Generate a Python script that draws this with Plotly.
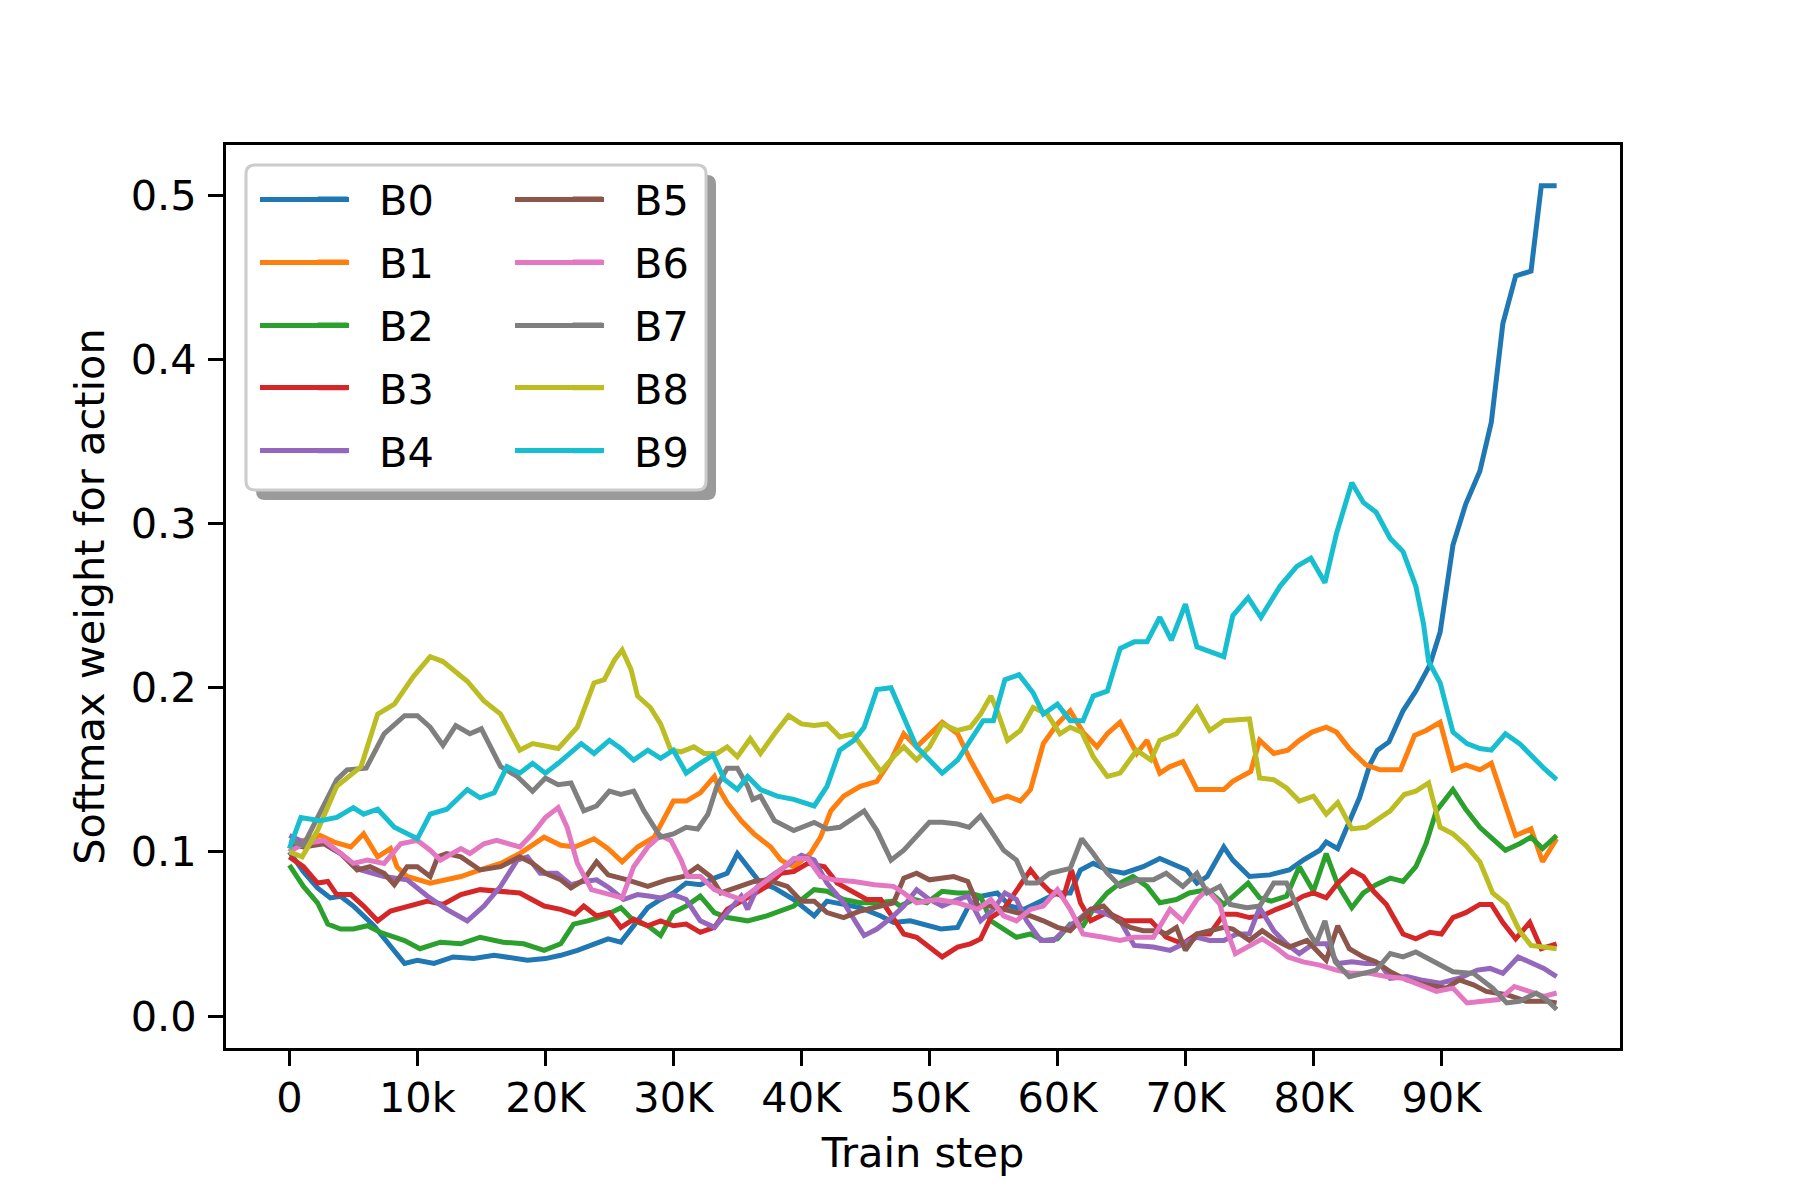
import plotly.graph_objects as go

# ---- data (steps in thousands, softmax weights) ----
B0_k = [0, 1.1, 2.2, 3.2, 4.0, 5.0, 6.6, 7.9, 9.0, 10.0, 11.3, 12.8, 14.4, 16.0, 17.0, 18.6, 20.0, 21.2, 22.5, 23.8, 24.9, 25.9, 26.9, 28.0, 29.0, 30.0, 31.0, 32.1, 33.2, 34.2, 35.0, 35.8, 36.8, 37.9, 39.4, 41.0, 42.0, 43.3, 44.6, 46.2, 47.2, 48.5, 49.6, 50.9, 52.2, 53.0, 54.0, 55.3, 56.3, 57.4, 58.7, 60.0, 61.0, 61.8, 62.8, 63.9, 65.2, 66.7, 68.0, 69.0, 70.1, 70.9, 71.7, 73.0, 73.7, 75.0, 76.6, 78.1, 79.2, 80.5, 81.0, 81.9, 82.6, 83.6, 84.4, 85.0, 85.9, 87.0, 88.0, 89.1, 89.9, 90.9, 91.9, 93.0, 93.9, 94.8, 95.8, 97.0, 97.8, 99.0]
B0_v = [0.100, 0.088, 0.078, 0.072, 0.073, 0.067, 0.055, 0.042, 0.032, 0.034, 0.032, 0.036, 0.035, 0.037, 0.036, 0.034, 0.035, 0.037, 0.040, 0.044, 0.047, 0.045, 0.055, 0.066, 0.071, 0.075, 0.081, 0.080, 0.084, 0.087, 0.099, 0.091, 0.081, 0.078, 0.071, 0.061, 0.070, 0.068, 0.066, 0.061, 0.057, 0.058, 0.056, 0.053, 0.054, 0.066, 0.073, 0.075, 0.067, 0.065, 0.070, 0.075, 0.075, 0.089, 0.093, 0.089, 0.087, 0.091, 0.096, 0.093, 0.089, 0.081, 0.085, 0.103, 0.095, 0.085, 0.086, 0.089, 0.095, 0.101, 0.106, 0.102, 0.115, 0.133, 0.153, 0.162, 0.167, 0.186, 0.198, 0.214, 0.234, 0.287, 0.312, 0.332, 0.362, 0.422, 0.451, 0.454, 0.506, 0.506]

B1_k = [0, 1.1, 2.4, 3.5, 4.8, 5.8, 6.9, 7.9, 8.4, 9.2, 11.0, 13.4, 14.9, 16.5, 18.0, 19.9, 21.2, 22.3, 23.8, 24.9, 26.0, 27.2, 28.5, 30.0, 31.0, 32.1, 33.2, 33.6, 34.2, 35.3, 36.3, 37.6, 38.4, 39.4, 40.7, 41.5, 42.3, 43.3, 44.6, 45.9, 47.0, 48.0, 49.0, 50.0, 51.0, 52.2, 53.2, 54.2, 55.0, 56.1, 57.1, 57.9, 58.9, 60.0, 61.0, 62.0, 63.1, 63.9, 64.9, 66.2, 67.0, 68.0, 68.8, 69.8, 70.9, 71.9, 73.0, 73.7, 75.1, 75.8, 76.9, 78.0, 78.9, 79.9, 81.0, 81.8, 82.8, 84.1, 85.2, 86.8, 87.9, 88.8, 89.9, 90.9, 91.9, 93.0, 93.9, 94.8, 95.8, 97.0, 97.9, 99.0]
B1_v = [0.100, 0.107, 0.110, 0.106, 0.103, 0.111, 0.097, 0.102, 0.091, 0.085, 0.081, 0.085, 0.089, 0.093, 0.099, 0.109, 0.104, 0.103, 0.108, 0.102, 0.094, 0.103, 0.109, 0.131, 0.131, 0.136, 0.146, 0.138, 0.130, 0.119, 0.111, 0.103, 0.095, 0.091, 0.099, 0.109, 0.125, 0.134, 0.140, 0.143, 0.156, 0.172, 0.164, 0.172, 0.179, 0.172, 0.156, 0.142, 0.131, 0.134, 0.131, 0.138, 0.166, 0.178, 0.186, 0.173, 0.164, 0.172, 0.179, 0.160, 0.168, 0.148, 0.152, 0.155, 0.138, 0.138, 0.138, 0.143, 0.149, 0.168, 0.160, 0.162, 0.168, 0.173, 0.176, 0.173, 0.163, 0.153, 0.150, 0.150, 0.171, 0.174, 0.179, 0.150, 0.153, 0.150, 0.154, 0.133, 0.110, 0.114, 0.094, 0.108]

B2_k = [0, 1.1, 2.2, 3.0, 4.0, 5.0, 6.1, 7.1, 9.0, 10.2, 11.8, 13.4, 14.9, 16.7, 18.3, 19.9, 21.2, 22.2, 23.3, 24.6, 25.9, 26.9, 28.0, 29.0, 30.0, 31.0, 32.1, 33.2, 34.2, 35.8, 37.3, 38.4, 39.4, 41.0, 42.0, 43.3, 44.6, 45.9, 47.2, 47.7, 48.8, 49.8, 51.0, 52.2, 53.2, 54.0, 54.8, 55.8, 56.8, 57.9, 58.9, 60.0, 61.0, 62.0, 62.8, 63.9, 64.9, 65.9, 67.0, 68.0, 69.3, 70.3, 71.7, 73.0, 74.0, 74.9, 75.8, 76.7, 77.9, 78.9, 80.0, 81.0, 81.9, 83.0, 83.9, 84.9, 86.0, 87.0, 88.0, 88.8, 89.6, 90.9, 91.9, 93.0, 94.0, 95.0, 96.1, 97.0, 97.9, 99.0]
B2_v = [0.092, 0.079, 0.069, 0.056, 0.053, 0.053, 0.055, 0.051, 0.046, 0.041, 0.045, 0.044, 0.048, 0.045, 0.044, 0.040, 0.044, 0.056, 0.058, 0.061, 0.066, 0.058, 0.055, 0.049, 0.063, 0.067, 0.073, 0.063, 0.060, 0.058, 0.061, 0.064, 0.067, 0.077, 0.076, 0.071, 0.069, 0.069, 0.070, 0.067, 0.071, 0.069, 0.076, 0.075, 0.075, 0.073, 0.058, 0.053, 0.048, 0.050, 0.046, 0.047, 0.056, 0.055, 0.065, 0.075, 0.081, 0.085, 0.079, 0.069, 0.071, 0.075, 0.077, 0.068, 0.075, 0.081, 0.072, 0.070, 0.073, 0.091, 0.076, 0.099, 0.080, 0.066, 0.075, 0.080, 0.084, 0.082, 0.091, 0.105, 0.125, 0.138, 0.126, 0.115, 0.108, 0.101, 0.105, 0.109, 0.102, 0.110]

B3_k = [0, 1.1, 2.2, 3.0, 3.7, 4.8, 5.8, 6.9, 7.9, 9.2, 10.8, 12.0, 13.4, 14.9, 16.5, 18.0, 19.9, 21.2, 22.3, 23.0, 24.0, 25.0, 25.9, 26.9, 28.0, 29.0, 30.0, 31.0, 32.1, 33.2, 34.2, 35.3, 36.3, 37.3, 38.4, 39.4, 40.5, 41.8, 42.8, 43.8, 45.1, 46.2, 47.2, 48.0, 49.0, 50.0, 51.0, 52.2, 53.2, 54.0, 54.8, 55.8, 56.8, 57.9, 58.5, 59.4, 60.5, 61.1, 61.8, 62.6, 63.9, 65.2, 66.2, 67.3, 68.5, 69.8, 70.9, 71.9, 73.0, 74.0, 75.0, 76.0, 77.1, 78.1, 79.2, 80.0, 81.0, 81.9, 83.0, 83.9, 84.7, 85.7, 87.0, 88.0, 89.1, 90.0, 90.9, 91.9, 93.0, 93.9, 94.8, 95.8, 96.9, 97.8, 99.0]
B3_v = [0.097, 0.091, 0.081, 0.082, 0.074, 0.074, 0.067, 0.058, 0.064, 0.067, 0.070, 0.068, 0.074, 0.077, 0.076, 0.075, 0.067, 0.065, 0.062, 0.067, 0.061, 0.063, 0.054, 0.059, 0.055, 0.058, 0.055, 0.056, 0.051, 0.054, 0.065, 0.070, 0.075, 0.079, 0.087, 0.088, 0.093, 0.091, 0.081, 0.077, 0.071, 0.071, 0.060, 0.050, 0.048, 0.042, 0.036, 0.042, 0.044, 0.047, 0.060, 0.065, 0.077, 0.089, 0.083, 0.076, 0.073, 0.089, 0.069, 0.058, 0.063, 0.058, 0.058, 0.058, 0.048, 0.044, 0.050, 0.050, 0.062, 0.062, 0.060, 0.061, 0.065, 0.068, 0.073, 0.075, 0.072, 0.081, 0.089, 0.085, 0.076, 0.068, 0.050, 0.047, 0.051, 0.050, 0.060, 0.063, 0.068, 0.068, 0.057, 0.047, 0.057, 0.041, 0.044]

B4_k = [0, 1.1, 2.7, 4.0, 5.6, 7.4, 9.2, 10.8, 12.3, 13.9, 15.2, 16.5, 17.8, 18.6, 19.6, 20.9, 22.0, 23.0, 24.0, 25.0, 26.1, 27.2, 28.2, 29.0, 30.0, 31.0, 32.1, 33.2, 34.2, 35.3, 35.8, 36.6, 37.6, 38.7, 40.0, 41.0, 42.0, 43.3, 44.9, 45.9, 47.2, 48.0, 49.0, 50.0, 51.0, 52.2, 53.0, 54.0, 55.0, 55.9, 56.8, 57.6, 58.7, 59.7, 60.5, 61.5, 62.6, 63.6, 64.9, 66.0, 67.5, 68.8, 69.8, 70.9, 71.9, 73.0, 74.0, 75.0, 75.8, 76.9, 77.9, 78.9, 80.0, 81.0, 81.9, 83.0, 84.1, 85.2, 86.0, 87.3, 88.4, 89.9, 91.4, 92.8, 93.8, 94.8, 96.0, 97.1, 98.0, 99.0]
B4_v = [0.110, 0.106, 0.105, 0.099, 0.089, 0.085, 0.083, 0.073, 0.065, 0.058, 0.067, 0.079, 0.095, 0.097, 0.087, 0.087, 0.080, 0.082, 0.083, 0.078, 0.071, 0.074, 0.073, 0.072, 0.074, 0.071, 0.058, 0.054, 0.063, 0.073, 0.065, 0.079, 0.085, 0.091, 0.098, 0.095, 0.081, 0.069, 0.049, 0.053, 0.061, 0.067, 0.077, 0.071, 0.067, 0.071, 0.073, 0.058, 0.065, 0.075, 0.071, 0.058, 0.046, 0.046, 0.052, 0.058, 0.065, 0.063, 0.058, 0.043, 0.042, 0.040, 0.044, 0.048, 0.046, 0.046, 0.050, 0.050, 0.066, 0.052, 0.044, 0.038, 0.044, 0.044, 0.032, 0.033, 0.032, 0.032, 0.023, 0.024, 0.022, 0.020, 0.023, 0.028, 0.029, 0.026, 0.036, 0.032, 0.029, 0.024]

B5_k = [0, 1.1, 2.7, 4.0, 5.3, 6.3, 7.4, 8.2, 9.2, 10.0, 11.0, 11.6, 12.3, 13.4, 14.9, 16.5, 18.0, 19.0, 20.0, 21.2, 22.0, 23.0, 24.0, 24.9, 26.4, 28.0, 29.5, 30.8, 31.9, 32.9, 33.7, 34.5, 35.3, 36.3, 37.3, 38.9, 40.0, 41.0, 42.0, 43.3, 44.6, 46.2, 47.2, 48.0, 49.0, 50.0, 50.9, 51.9, 53.0, 53.8, 54.8, 55.8, 56.8, 57.9, 58.9, 60.0, 61.0, 61.8, 62.6, 63.6, 64.7, 65.7, 66.7, 67.8, 68.5, 69.3, 70.0, 70.9, 71.9, 73.0, 73.7, 75.0, 76.0, 77.1, 78.1, 79.5, 81.0, 81.9, 82.8, 83.9, 84.9, 86.0, 87.3, 88.8, 90.4, 91.4, 92.5, 93.5, 95.1, 96.6, 98.2, 99.0]
B5_v = [0.105, 0.103, 0.105, 0.099, 0.089, 0.091, 0.087, 0.080, 0.091, 0.091, 0.085, 0.097, 0.099, 0.097, 0.089, 0.091, 0.097, 0.093, 0.087, 0.083, 0.078, 0.083, 0.094, 0.086, 0.083, 0.079, 0.083, 0.085, 0.091, 0.085, 0.075, 0.077, 0.079, 0.082, 0.083, 0.079, 0.070, 0.070, 0.063, 0.060, 0.064, 0.067, 0.069, 0.084, 0.087, 0.083, 0.084, 0.085, 0.082, 0.067, 0.067, 0.065, 0.063, 0.061, 0.058, 0.054, 0.052, 0.058, 0.065, 0.067, 0.058, 0.054, 0.052, 0.052, 0.050, 0.054, 0.040, 0.050, 0.052, 0.054, 0.053, 0.046, 0.052, 0.046, 0.042, 0.046, 0.034, 0.055, 0.041, 0.036, 0.033, 0.027, 0.022, 0.019, 0.017, 0.022, 0.019, 0.015, 0.013, 0.009, 0.009, 0.008]

B6_k = [0, 1.1, 2.7, 4.0, 5.0, 6.1, 7.4, 8.7, 10.0, 11.0, 11.8, 13.4, 14.1, 15.2, 16.2, 18.0, 19.0, 20.0, 21.0, 21.7, 22.5, 23.6, 24.9, 26.0, 26.9, 28.0, 29.0, 29.8, 30.6, 31.1, 32.1, 33.2, 34.2, 35.3, 36.3, 37.3, 38.4, 39.4, 40.5, 41.5, 42.5, 44.1, 45.7, 47.2, 48.0, 49.0, 50.6, 52.2, 53.8, 54.8, 55.8, 56.8, 57.9, 58.9, 60.0, 61.0, 62.0, 63.6, 64.9, 66.0, 67.5, 68.8, 69.8, 70.9, 71.7, 72.7, 73.2, 73.9, 74.9, 76.0, 77.0, 78.0, 79.2, 80.5, 81.8, 83.0, 84.4, 85.7, 87.0, 88.3, 89.6, 90.9, 92.0, 93.2, 94.5, 95.7, 96.9, 98.0, 99.0]
B6_v = [0.100, 0.105, 0.107, 0.099, 0.093, 0.095, 0.093, 0.105, 0.107, 0.101, 0.095, 0.102, 0.099, 0.105, 0.107, 0.103, 0.111, 0.121, 0.127, 0.115, 0.093, 0.077, 0.074, 0.072, 0.091, 0.103, 0.110, 0.107, 0.095, 0.085, 0.085, 0.077, 0.074, 0.071, 0.077, 0.083, 0.089, 0.096, 0.096, 0.085, 0.083, 0.082, 0.080, 0.079, 0.075, 0.069, 0.071, 0.069, 0.065, 0.071, 0.061, 0.058, 0.065, 0.067, 0.077, 0.065, 0.050, 0.048, 0.046, 0.048, 0.048, 0.065, 0.058, 0.071, 0.077, 0.068, 0.053, 0.038, 0.042, 0.047, 0.042, 0.036, 0.033, 0.031, 0.028, 0.026, 0.026, 0.024, 0.023, 0.019, 0.015, 0.017, 0.008, 0.009, 0.010, 0.018, 0.015, 0.012, 0.014]

B7_k = [0, 1.1, 3.7, 4.5, 6.0, 7.4, 9.0, 10.0, 11.0, 12.0, 13.0, 14.1, 15.0, 16.5, 17.8, 19.0, 20.0, 21.0, 22.0, 23.0, 24.0, 25.0, 25.9, 26.9, 27.7, 28.5, 29.0, 30.0, 31.0, 31.9, 32.7, 33.4, 34.2, 35.0, 35.8, 36.2, 36.8, 37.9, 39.4, 41.0, 42.0, 43.0, 44.9, 45.9, 47.0, 48.0, 49.0, 50.0, 51.0, 52.2, 53.1, 54.0, 54.8, 55.8, 56.8, 57.6, 58.4, 59.4, 61.0, 61.9, 62.8, 63.9, 64.9, 66.2, 67.5, 68.5, 69.8, 70.9, 71.7, 72.7, 73.5, 74.8, 75.8, 76.9, 77.9, 78.4, 79.5, 80.2, 80.9, 81.7, 82.8, 83.9, 84.9, 86.0, 87.0, 88.0, 89.4, 90.9, 92.5, 94.0, 95.1, 96.1, 97.4, 98.2, 99.0]
B7_v = [0.107, 0.104, 0.144, 0.150, 0.151, 0.172, 0.183, 0.183, 0.176, 0.165, 0.177, 0.172, 0.175, 0.152, 0.146, 0.137, 0.145, 0.141, 0.142, 0.125, 0.128, 0.137, 0.135, 0.137, 0.125, 0.115, 0.109, 0.111, 0.115, 0.114, 0.123, 0.140, 0.151, 0.151, 0.140, 0.132, 0.134, 0.119, 0.113, 0.118, 0.114, 0.115, 0.125, 0.113, 0.095, 0.101, 0.109, 0.118, 0.118, 0.117, 0.115, 0.122, 0.113, 0.101, 0.095, 0.081, 0.081, 0.087, 0.090, 0.108, 0.099, 0.087, 0.079, 0.083, 0.083, 0.087, 0.079, 0.087, 0.075, 0.079, 0.068, 0.066, 0.067, 0.081, 0.081, 0.072, 0.053, 0.044, 0.058, 0.033, 0.024, 0.026, 0.028, 0.038, 0.036, 0.039, 0.033, 0.027, 0.026, 0.017, 0.008, 0.009, 0.014, 0.010, 0.004]

B8_k = [0, 1.0, 2.2, 3.7, 5.6, 6.9, 8.2, 9.7, 11.0, 12.0, 13.9, 15.2, 16.5, 18.0, 19.0, 21.0, 22.5, 23.8, 24.6, 25.4, 26.0, 26.7, 27.2, 28.2, 29.0, 29.8, 30.6, 31.6, 32.4, 33.4, 34.2, 35.0, 36.0, 36.8, 37.9, 39.0, 40.0, 41.0, 42.0, 43.0, 44.0, 45.0, 46.2, 47.2, 48.0, 49.0, 50.0, 51.0, 52.2, 53.2, 54.0, 54.8, 55.3, 56.1, 57.1, 58.1, 59.2, 60.2, 61.0, 61.9, 62.8, 63.9, 64.9, 66.2, 67.3, 68.0, 69.3, 70.9, 71.9, 73.0, 75.0, 75.8, 76.9, 77.9, 78.9, 80.0, 81.0, 81.9, 83.0, 84.1, 86.0, 87.1, 88.0, 89.0, 89.9, 90.9, 91.9, 93.0, 94.0, 95.1, 96.1, 97.0, 98.0, 99.0]
B8_v = [0.100, 0.097, 0.113, 0.140, 0.152, 0.184, 0.190, 0.207, 0.219, 0.216, 0.204, 0.192, 0.184, 0.162, 0.166, 0.163, 0.176, 0.203, 0.205, 0.217, 0.223, 0.211, 0.195, 0.188, 0.178, 0.162, 0.161, 0.164, 0.160, 0.160, 0.164, 0.158, 0.169, 0.160, 0.172, 0.183, 0.178, 0.177, 0.178, 0.170, 0.172, 0.162, 0.149, 0.158, 0.164, 0.156, 0.164, 0.178, 0.174, 0.176, 0.184, 0.195, 0.186, 0.168, 0.174, 0.188, 0.184, 0.172, 0.176, 0.173, 0.158, 0.146, 0.148, 0.162, 0.156, 0.168, 0.172, 0.188, 0.174, 0.180, 0.181, 0.145, 0.144, 0.139, 0.131, 0.134, 0.123, 0.130, 0.114, 0.115, 0.125, 0.135, 0.137, 0.142, 0.115, 0.111, 0.104, 0.094, 0.075, 0.068, 0.052, 0.043, 0.042, 0.041]

B9_k = [0, 0.9, 2.4, 3.7, 5.0, 5.8, 6.9, 8.2, 10.0, 11.0, 12.3, 13.9, 14.9, 16.0, 17.0, 18.0, 19.0, 20.0, 21.0, 22.8, 23.8, 25.0, 25.9, 26.9, 28.0, 29.0, 30.0, 31.0, 31.9, 33.1, 34.0, 35.0, 35.8, 36.8, 38.1, 39.4, 41.0, 42.0, 43.0, 44.1, 44.9, 45.9, 47.0, 48.0, 49.0, 50.0, 51.0, 52.2, 53.2, 54.2, 55.0, 55.9, 57.0, 58.1, 58.9, 60.0, 61.0, 62.0, 62.8, 63.9, 64.9, 66.0, 67.0, 68.0, 68.9, 70.0, 70.9, 71.9, 73.0, 73.7, 74.9, 75.9, 77.4, 78.7, 79.8, 80.9, 81.8, 83.0, 83.9, 84.9, 86.0, 87.0, 88.0, 88.6, 89.0, 89.9, 90.9, 92.0, 93.0, 93.9, 95.0, 96.1, 97.1, 98.0, 99.0]
B9_v = [0.102, 0.121, 0.119, 0.121, 0.127, 0.123, 0.126, 0.115, 0.108, 0.123, 0.126, 0.138, 0.133, 0.136, 0.152, 0.148, 0.154, 0.148, 0.154, 0.166, 0.160, 0.168, 0.163, 0.156, 0.162, 0.157, 0.162, 0.148, 0.153, 0.159, 0.144, 0.138, 0.146, 0.138, 0.134, 0.132, 0.128, 0.140, 0.162, 0.168, 0.176, 0.199, 0.200, 0.182, 0.164, 0.156, 0.148, 0.156, 0.168, 0.180, 0.180, 0.205, 0.208, 0.197, 0.184, 0.190, 0.180, 0.180, 0.195, 0.198, 0.224, 0.228, 0.228, 0.243, 0.229, 0.251, 0.225, 0.222, 0.219, 0.244, 0.255, 0.243, 0.262, 0.274, 0.279, 0.264, 0.294, 0.325, 0.313, 0.307, 0.291, 0.283, 0.262, 0.239, 0.216, 0.203, 0.173, 0.166, 0.163, 0.162, 0.172, 0.166, 0.158, 0.151, 0.144]

names = ["B0", "B1", "B2", "B3", "B4", "B5", "B6", "B7", "B8", "B9"]
steps_k = [B0_k, B1_k, B2_k, B3_k, B4_k, B5_k, B6_k, B7_k, B8_k, B9_k]
values = [B0_v, B1_v, B2_v, B3_v, B4_v, B5_v, B6_v, B7_v, B8_v, B9_v]
colors = ["#1f77b4", "#ff7f0e", "#2ca02c", "#d62728", "#9467bd",
          "#8c564b", "#e377c2", "#7f7f7f", "#bcbd22", "#17becf"]

tick_vals = [0, 10000, 20000, 30000, 40000, 50000, 60000, 70000, 80000, 90000]
tick_text = ["0", "10k", "20K", "30K", "40K", "50K", "60K", "70K", "80K", "90K"]
ytick_vals = [0.0, 0.1, 0.2, 0.3, 0.4, 0.5]
ytick_text = ["0.0", "0.1", "0.2", "0.3", "0.4", "0.5"]

FONT = "DejaVu Sans"
FS = 41.5
LW = 5
PAD = "\u00a0\u00a0"  # matplotlib-like gap between legend handle and label

fig = go.Figure()
for i, (n, ks, vs, c) in enumerate(zip(names, steps_k, values, colors)):
    fig.add_trace(go.Scatter(
        x=[k * 1000 for k in ks], y=vs, mode="lines", name=PAD + n,
        line=dict(color=c, width=LW),
        legend="legend" if i < 5 else "legend2",
        legendgroup=n,
    ))

# page has an 8px body margin, so the layout is offset to land on target pixels
OFF = 8
W, H = 1800 - OFF, 1200 - OFF
L, R, T, B = 226 - OFF, 1620 - OFF, 145 - OFF, 1048 - OFF
pw, ph = R - L, B - T

def px(xp):
    return (xp - OFF - L) / pw

def py(yp):
    return (B - (yp - OFF)) / ph

def rounded_rect(x0, y0, x1, y1, r=9):
    rx, ry = r / pw, r / ph
    X0, X1 = px(x0), px(x1)
    Y0, Y1 = py(y1), py(y0)
    return (f"M{X0+rx},{Y1} L{X1-rx},{Y1} Q{X1},{Y1} {X1},{Y1-ry} "
            f"L{X1},{Y0+ry} Q{X1},{Y0} {X1-rx},{Y0} L{X0+rx},{Y0} "
            f"Q{X0},{Y0} {X0},{Y0+ry} L{X0},{Y1-ry} Q{X0},{Y1} {X0+rx},{Y1} Z")

IW = 30
legend_common = dict(
    font=dict(family=FONT, size=FS, color="black"),
    bgcolor="rgba(0,0,0,0)", borderwidth=0,
    orientation="v", traceorder="grouped", tracegroupgap=6,
    xanchor="left", yanchor="top", itemwidth=IW,
)

# legend frame + longer legend handles (matplotlib-style), drawn behind the legend entries
row_y = [199.5, 262.5, 325.5, 387.5, 450.5]
handle_x = [(260, 349), (515, 604)]
shapes = [
    dict(type="path", xref="paper", yref="paper",
         path=rounded_rect(256, 175, 716, 500),
         fillcolor="#9a9a9a", line=dict(width=0), layer="above"),
    dict(type="path", xref="paper", yref="paper",
         path=rounded_rect(246, 165, 706, 490),
         fillcolor="white", line=dict(color="#cccccc", width=3), layer="above"),
]
for i, c in enumerate(colors):
    col, row = divmod(i, 5)
    x0, x1 = handle_x[col]
    shapes.append(dict(type="line", xref="paper", yref="paper",
                       x0=px(x0), x1=px(x1), y0=py(row_y[row]), y1=py(row_y[row]),
                       line=dict(color=c, width=LW), layer="above"))

pad_w = 26.4
fig.update_layout(
    width=W, height=H,
    margin=dict(l=L, r=W - R, t=T, b=H - B, pad=0),
    paper_bgcolor="white", plot_bgcolor="white",
    font=dict(family=FONT, size=FS, color="black"),
    showlegend=True,
    legend=dict(x=px(381 - pad_w - IW - 12), y=py(165.5), **legend_common),
    legend2=dict(x=px(636 - pad_w - IW - 12), y=py(165.5), **legend_common),
    shapes=shapes,
)

axis_common = dict(
    showgrid=False, zeroline=False,
    showline=True, linecolor="black", linewidth=3, mirror=True,
    ticks="outside", ticklen=15, tickwidth=3, tickcolor="black",
    tickfont=dict(family=FONT, size=FS, color="black"),
)

fig.update_xaxes(
    range=[-4950, 103950], tickmode="array", tickvals=tick_vals, ticktext=tick_text,
    ticklabelstandoff=-4,
    title=dict(text="Train step", font=dict(family=FONT, size=FS, color="black"), standoff=18),
    **axis_common,
)
fig.update_yaxes(
    range=[-0.0195, 0.5308], tickmode="array", tickvals=ytick_vals, ticktext=ytick_text,
    ticklabelstandoff=3,
    title=dict(text="Softmax weight for action", font=dict(family=FONT, size=FS, color="black"), standoff=14),
    **axis_common,
)

fig.write_html("out.html")
